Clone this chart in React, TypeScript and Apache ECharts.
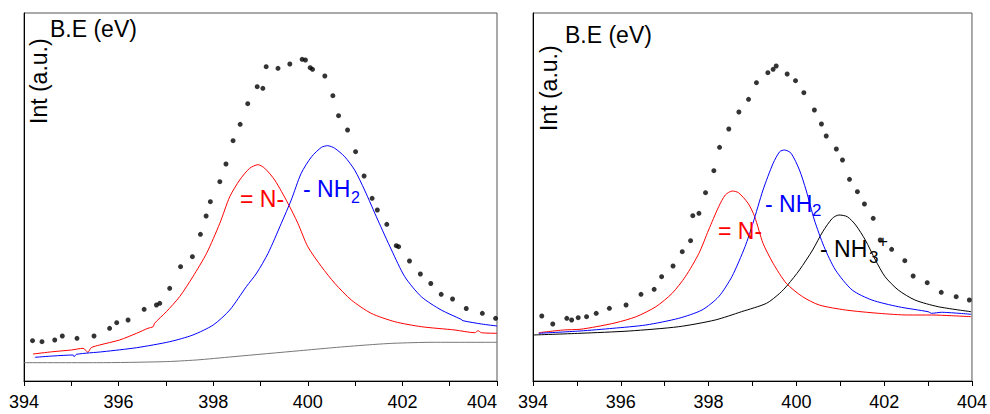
import React, { useEffect, useRef } from "react";
import * as echarts from "echarts";

// Binding energy axis (eV)
const xMin = 394;
const xMax = 404;
const yMax = 368; // arbitrary intensity units

// ---------- Left panel ----------
const leftRaw: number[][] = [
  [394.18, 40.3], [394.38, 39.3], [394.65, 41], [394.81, 45], [395.12, 42.7], [395.48, 45],
  [395.81, 52.7], [395.96, 58.3], [396.2, 61], [396.54, 71.7], [396.8, 76], [396.87, 77.7],
  [397.08, 92.7], [397.31, 114.3], [397.56, 124.3], [397.73, 146.7], [397.85, 165], [397.94, 179.3],
  [398.14, 199.3], [398.27, 217], [398.42, 240.3], [398.57, 256.7], [398.73, 277.3], [398.93, 294.3],
  [399.05, 292.7], [399.12, 314.3], [399.37, 312.7], [399.62, 317], [399.88, 321.7], [399.95, 321],
  [400.05, 313.3], [400.1, 311.7], [400.36, 305], [400.53, 285.3], [400.65, 265.3], [400.84, 251],
  [401.01, 229.3], [401.19, 205], [401.36, 182.7], [401.47, 171], [401.67, 156.7], [401.87, 135.3],
  [401.92, 134.3], [402.15, 120], [402.38, 107], [402.6, 97.5], [402.82, 86.7], [403.06, 82],
  [403.35, 72.5], [403.69, 67.7], [403.97, 62.7]
];

const leftImine: number[][] = [
  [394.19, 27], [394.61, 29.3], [395.0, 31], [395.25, 32.7], [395.35, 28.7], [395.42, 33.3],
  [395.6, 36], [396.02, 41], [396.38, 47.7], [396.62, 52.7], [396.73, 54.3], [396.76, 57.7],
  [397.01, 69.3], [397.29, 84.3], [397.57, 104.3], [397.86, 127.7], [398.14, 157.7], [398.35, 184.3],
  [398.56, 201], [398.77, 212.7], [398.95, 216.3], [399.09, 212.7], [399.3, 201], [399.58, 177.7],
  [399.79, 157.7], [400.0, 134.3], [400.29, 114.3], [400.57, 97.7], [400.92, 81], [401.34, 67.7],
  [401.84, 59.3], [402.4, 54.3], [403.11, 51], [403.53, 48.3], [403.6, 50.3], [403.67, 48.3],
  [404.0, 47.7]
];

const leftAmine: number[][] = [
  [394.23, 23.7], [394.61, 25], [395.04, 26], [395.06, 24.3], [395.11, 26.7], [395.67, 29.3],
  [396.38, 33.3], [397.08, 39.3], [397.57, 46], [398.0, 56], [398.35, 71], [398.7, 94.3],
  [398.92, 108], [399.16, 127.7], [399.44, 157.7], [399.65, 181], [399.86, 207.7], [400.08, 224.3],
  [400.29, 233.7], [400.42, 235.3], [400.57, 232.7], [400.78, 224.3], [400.99, 211], [401.2, 191],
  [401.48, 161], [401.77, 131], [402.05, 104.3], [402.4, 84.3], [402.82, 71], [403.24, 61.7],
  [403.28, 60.3], [403.67, 57], [404.0, 55]
];

const leftBackground: number[][] = [
  [394.0, 18.3], [395.53, 18.3], [396.94, 19.3], [397.64, 21], [398.42, 24.3], [399.83, 30.3],
  [400.53, 33.3], [401.24, 36], [401.8, 37.7], [402.65, 38.7], [404.0, 38.7]
];

// ---------- Right panel ----------
const rightRaw: number[][] = [
  [394.2, 65], [394.45, 57], [394.77, 62.7], [394.88, 61], [395.03, 63.3], [395.22, 64.3],
  [395.44, 67.7], [395.74, 72.7], [396.12, 76], [396.46, 86.7], [396.76, 91.7], [396.93, 104.3],
  [397.19, 115], [397.4, 129.3], [397.59, 140.3], [397.64, 165.3], [397.78, 167.7], [397.93, 188.3],
  [398.12, 210.3], [398.25, 233.7], [398.46, 252], [398.69, 269], [398.91, 281.7], [399.09, 298.3],
  [399.35, 308.3], [399.47, 311.7], [399.54, 315], [399.79, 307], [399.98, 300.3], [400.17, 288.3],
  [400.41, 271], [400.57, 257], [400.68, 245], [400.91, 232], [401.05, 221], [401.21, 201.7],
  [401.39, 189.3], [401.55, 177], [401.75, 162.7], [401.91, 141], [402.17, 131.7], [402.47, 120.3],
  [402.66, 105], [402.98, 98.3], [403.3, 88.7], [403.64, 84.3], [403.94, 81]
];

const rightImine: number[][] = [
  [394.13, 48.3], [394.69, 51], [395.07, 51.7], [395.44, 54.3], [395.89, 58.3], [396.35, 64.3],
  [396.8, 74.3], [397.17, 87.7], [397.47, 104.3], [397.78, 127.7], [398.0, 151], [398.23, 174.3],
  [398.38, 186], [398.54, 190], [398.68, 188.3], [398.9, 177.7], [399.05, 164.3], [399.24, 137.7],
  [399.47, 117.7], [399.77, 97.7], [400.14, 84.3], [400.52, 76], [401.12, 71], [401.87, 67.7],
  [402.55, 66], [403.08, 66], [403.53, 65.3], [403.98, 64.3]
];

const rightAmine: number[][] = [
  [394.13, 47.7], [395.07, 50], [395.82, 52.7], [396.57, 56], [397.32, 62.7], [397.85, 71],
  [398.23, 84.3], [398.53, 104.3], [398.83, 134.3], [399.01, 157.7], [399.24, 191], [399.47, 217.7],
  [399.62, 229.3], [399.73, 231], [399.88, 227.7], [400.07, 211], [400.22, 191], [400.41, 161],
  [400.63, 134.3], [400.89, 111], [401.27, 91], [401.72, 81], [402.32, 74.3], [403.0, 69.3],
  [403.08, 67.7], [403.3, 68.7], [403.98, 66.7]
];

const rightAmmonium: number[][] = [
  [394.0, 46], [395.07, 47.7], [396.19, 50], [397.32, 54.3], [398.15, 61], [398.75, 69.3],
  [399.32, 77.7], [399.62, 87.7], [399.8, 96], [400.07, 111], [400.37, 131], [400.6, 149.3],
  [400.82, 162.7], [400.97, 166], [401.16, 164.3], [401.35, 156], [401.57, 141], [401.8, 121],
  [402.02, 104.3], [402.32, 91], [402.7, 81], [403.23, 74.3], [403.98, 69.3]
];

const FONT = '"Liberation Sans", Arial, Helvetica, sans-serif';

function makeXAxis(gridIndex: number, alignMax: string) {
  return {
    type: "value",
    gridIndex,
    min: xMin,
    max: xMax,
    interval: 1,
    axisLine: { show: true, onZero: false, lineStyle: { color: "#000", width: 1 } },
    axisTick: { show: true, inside: false, length: 5, lineStyle: { color: "#000" } },
    axisLabel: {
      show: true,
      margin: 12,
      color: "#000",
      fontSize: 18,
      fontFamily: FONT,
      alignMaxLabel: alignMax,
      formatter: (v: number) => (Math.round(v) % 2 === 0 ? String(Math.round(v)) : ""),
    },
    splitLine: { show: false },
  };
}

function makeYAxis(gridIndex: number) {
  return {
    type: "value",
    gridIndex,
    min: 0,
    max: yMax,
    axisLine: { show: true, onZero: false, lineStyle: { color: "#000", width: 1 } },
    axisTick: { show: false },
    axisLabel: { show: false },
    splitLine: { show: false },
  };
}

function lineSeries(idx: number, data: number[][], color: string) {
  return {
    type: "line",
    xAxisIndex: idx,
    yAxisIndex: idx,
    data,
    showSymbol: false,
    smooth: 0.25,
    lineStyle: { color, width: 1 },
    z: 3,
  };
}

function scatterSeries(idx: number, data: number[][]) {
  return {
    type: "scatter",
    xAxisIndex: idx,
    yAxisIndex: idx,
    data,
    symbol: "circle",
    symbolSize: 5,
    itemStyle: { color: "#000" },
    z: 4,
  };
}

function txt(x: number, y: number, text: string, color: string, size: number, extra: any = {}) {
  return {
    type: "text",
    x,
    y,
    z: 10,
    ...extra,
    style: {
      text,
      fill: color,
      fontSize: size,
      fontFamily: FONT,
      align: "left",
      verticalAlign: "top",
      ...(extra.style || {}),
    },
  };
}

export default function App() {
  const ref = useRef<HTMLDivElement>(null);
  useEffect(() => {
    if (!ref.current) return;
    const chart = echarts.init(ref.current, null, { renderer: "svg" });
    const option: any = {
      animation: false,
      backgroundColor: "#fff",
      grid: [
        { left: 24, top: 13, width: 473, height: 368, show: true, borderColor: "#555", borderWidth: 1 },
        { left: 533, top: 13, width: 443, height: 368, show: true, borderColor: "#555", borderWidth: 1 },
      ],
      xAxis: [makeXAxis(0, "right"), makeXAxis(1, "center")],
      yAxis: [makeYAxis(0), makeYAxis(1)],
      series: [
        lineSeries(0, leftBackground, "#777"),
        lineSeries(0, leftImine, "#ff0000"),
        lineSeries(0, leftAmine, "#0000ff"),
        scatterSeries(0, leftRaw),
        lineSeries(1, rightAmmonium, "#000"),
        lineSeries(1, rightImine, "#ff0000"),
        lineSeries(1, rightAmine, "#0000ff"),
        scatterSeries(1, rightRaw),
      ],
      graphic: [
        // left panel
        txt(50, 17, "B.E (eV)", "#000", 23),
        txt(27, 124, "Int (a.u.)", "#000", 23, { rotation: Math.PI / 2 }),
        txt(240, 187, "= N-", "#ff0000", 23),
        txt(303, 177, "- NH", "#0000ff", 23),
        txt(351, 189, "2", "#0000ff", 16),
        // right panel
        txt(565, 23, "B.E (eV)", "#000", 23),
        txt(537, 131, "Int (a.u.)", "#000", 23, { rotation: Math.PI / 2 }),
        txt(718, 219, "= N-", "#ff0000", 23),
        txt(765, 192, "- NH", "#0000ff", 23),
        txt(812, 202, "2", "#0000ff", 17),
        txt(820, 237, "- NH", "#000", 23),
        txt(869, 249, "3", "#000", 17),
        txt(878, 241, "+", "#000", 17, { style: { verticalAlign: "middle" } }),
      ],
    };
    chart.setOption(option);
    return () => chart.dispose();
  }, []);
  return (
    <div
      ref={ref}
      style={{ position: "absolute", left: 0, top: 0, width: 990, height: 414, background: "#fff" }}
    />
  );
}
